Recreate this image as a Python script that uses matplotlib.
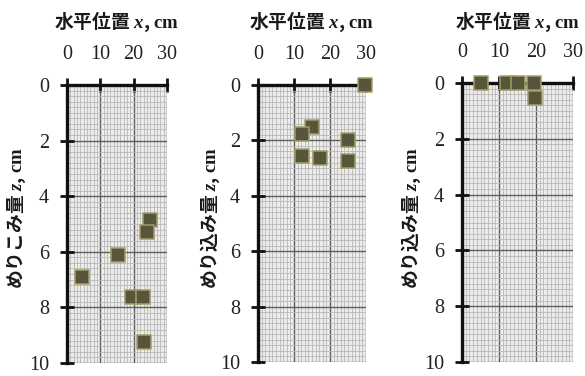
import matplotlib
matplotlib.use("Agg")
import matplotlib.pyplot as plt
import numpy as np
from matplotlib.ticker import MultipleLocator

plt.rcParams["mathtext.fontset"] = "custom"
plt.rcParams["mathtext.it"] = "Liberation Serif:italic:bold"
plt.rcParams["mathtext.rm"] = "Liberation Serif:bold"

# Stone positions: horizontal x (cm) and penetration depth z (cm)
x_a = [24.9, 24.0, 15.3, 4.5, 19.5, 22.8, 23.1]
z_a = [4.86, 5.29, 6.10, 6.90, 7.64, 7.64, 9.25]

x_b = [29.7, 15.0, 12.2, 25.0, 12.2, 17.2, 25.0]
z_b = [0.00, 1.50, 1.76, 1.98, 2.55, 2.63, 2.73]

x_c = [5.2, 12.2, 15.2, 19.4, 19.6]
z_c = [0.00, 0.00, 0.00, 0.00, 0.55]

x_ticks = [0, 10, 20, 30]
z_ticks = [0, 2, 4, 6, 8, 10]

title_text = "水平位置$\\ x$, $\\mathrm{cm}$"
ylabels = ["めりこみ量$\\ z$, $\\mathrm{cm}$",
           "めり込み量$\\ z$, $\\mathrm{cm}$",
           "めり込み量$\\ z$, $\\mathrm{cm}$"]

W, H = 585, 376
fig = plt.figure(figsize=(W / 100, H / 100), dpi=100)
fig.patch.set_facecolor("white")

# axes boxes in pixels: left, right, top, bottom
boxes = [(67, 167, 85, 363), (258, 366, 85, 362), (462, 573, 83, 362)]
label_x = [16, 210, 411]
datasets = [(x_a, z_a), (x_b, z_b), (x_c, z_c)]

cjk = "Noto Sans CJK JP"

for i, ((l, r, t, b), (xs, zs)) in enumerate(zip(boxes, datasets)):
    ax = fig.add_axes([l / W, (H - b) / H, (r - l) / W, (b - t) / H])
    ax.set_xlim(0, 30)
    ax.set_ylim(10, 0)
    ax.set_facecolor("#ececec")

    ax.xaxis.set_major_locator(MultipleLocator(10))
    ax.xaxis.set_minor_locator(MultipleLocator(1))
    ax.yaxis.set_major_locator(MultipleLocator(2))
    ax.yaxis.set_minor_locator(MultipleLocator(0.2))
    ax.set_xticks(x_ticks)
    ax.set_yticks(z_ticks)

    ax.grid(which="minor", color="#b8b8b8", lw=0.6)
    ax.grid(which="major", color="#5e5e5e", lw=1.0)
    ax.set_axisbelow(True)

    ax.xaxis.tick_top()
    ax.tick_params(which="major", direction="inout", length=10, width=2.0,
                   color="#111111", labelsize=14.5, pad=8)
    ax.tick_params(axis="x", which="major", pad=10)
    ax.tick_params(which="minor", length=0)
    for lab in ax.get_xticklabels() + ax.get_yticklabels():
        lab.set_fontfamily("Liberation Serif")
        lab.set_color("#222222")

    for side in ("right", "bottom"):
        ax.spines[side].set_visible(False)
    for side in ("left", "top"):
        ax.spines[side].set_linewidth(2.4)
        ax.spines[side].set_color("#111111")

    ax.scatter(xs, zs, marker="s", s=105, facecolor="#57553a",
               edgecolor="#a39e6a", linewidth=1.1, zorder=5, clip_on=False)

    cx = (l + r) / 2
    fig.text(cx / W, 1 - 22 / H, title_text, ha="center", va="center",
             fontsize=13.5, fontfamily=cjk, fontweight="bold", color="#1a1a1a")
    fig.text(label_x[i] / W, 1 - 218 / H, ylabels[i], ha="center",
             va="center", rotation=90, fontsize=13.5, fontfamily=cjk,
             fontweight="bold", color="#1a1a1a")

fig.savefig("out.png", dpi=100, facecolor="white")
